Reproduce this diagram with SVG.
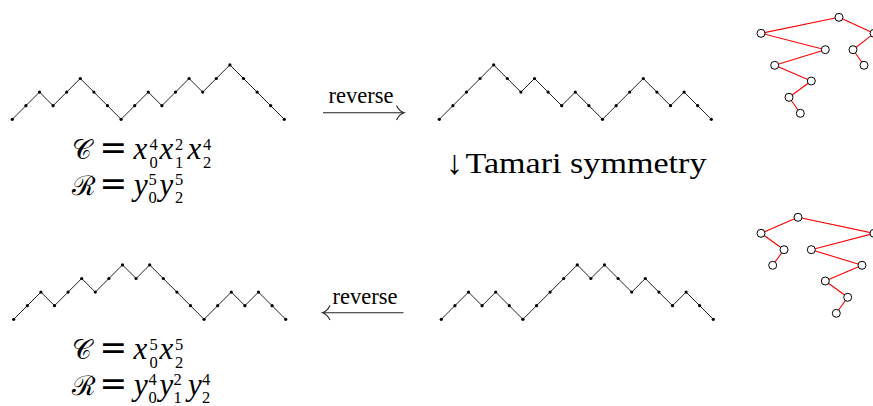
<svg xmlns="http://www.w3.org/2000/svg" width="873" height="406" viewBox="0 0 873 406">
<style>
.dp{fill:none;stroke:#222;stroke-width:1;marker-start:url(#dot);marker-mid:url(#dot);marker-end:url(#dot)}
.m{font-family:"Liberation Serif",serif;font-size:31px;fill:#000;font-style:italic}
.cal{font-family:"DejaVu Serif",serif;font-size:27px;fill:#000}
.eq{font-family:"DejaVu Serif",serif;font-size:33px;fill:#000}
.s{font-family:"Liberation Serif",serif;font-size:16.5px;fill:#000}
.lbl{font-family:"Liberation Serif",serif;font-size:22.5px;fill:#000;text-anchor:middle}
.big{font-family:"Liberation Serif",serif;font-size:30px;fill:#000}
.te{stroke:#f00;stroke-width:1.1;fill:none}
.tn{fill:#fff;stroke:#000;stroke-width:1}
.arr{fill:none;stroke:#222;stroke-width:1.1}
</style>
<defs>
<marker id="dot" markerUnits="userSpaceOnUse" markerWidth="6" markerHeight="6" refX="3" refY="3" overflow="visible">
<circle cx="3" cy="3" r="1.6" fill="#000"/>
</marker>
</defs>

<g id="path-top-left">
<polyline class="dp" points="12.3,119.3 25.9,105.7 39.5,92.1 53.1,105.7 66.7,92.1 80.3,78.5 93.9,92.1 107.5,105.7 121.1,119.3 134.7,105.7 148.3,92.1 161.9,105.7 175.5,92.1 189.1,78.5 202.7,92.1 216.3,78.5 229.9,64.9 243.5,78.5 257.1,92.1 270.7,105.7 284.3,119.3"/>
</g>
<g id="path-top-mid">
<polyline class="dp" points="439.3,119.3 452.9,105.7 466.5,92.1 480.1,78.5 493.7,64.9 507.3,78.5 520.9,92.1 534.5,78.5 548.1,92.1 561.7,105.7 575.3,92.1 588.9,105.7 602.5,119.3 616.1,105.7 629.7,92.1 643.3,78.5 656.9,92.1 670.5,105.7 684.1,92.1 697.7,105.7 711.3,119.3"/>
</g>
<g id="path-bottom-left">
<polyline class="dp" points="13.7,319.3 27.3,305.7 40.9,292.1 54.5,305.7 68.1,292.1 81.7,278.5 95.3,292.1 108.9,278.5 122.5,264.9 136.1,278.5 149.7,264.9 163.3,278.5 176.9,292.1 190.5,305.7 204.1,319.3 217.7,305.7 231.3,292.1 244.9,305.7 258.5,292.1 272.1,305.7 285.7,319.3"/>
</g>
<g id="path-bottom-mid">
<polyline class="dp" points="441.3,319.3 454.9,305.7 468.5,292.1 482.1,305.7 495.7,292.1 509.3,305.7 522.9,319.3 536.5,305.7 550.1,292.1 563.7,278.5 577.3,264.9 590.9,278.5 604.5,264.9 618.1,278.5 631.7,292.1 645.3,278.5 658.9,292.1 672.5,305.7 686.1,292.1 699.7,305.7 713.3,319.3"/>
</g>

<g id="formula-top">
<text class="cal" x="72" y="159.3">𝒞</text>
<text class="eq" x="99.5" y="159.3">=</text>
<text class="m" y="159.3"><tspan x="133.5">x</tspan><tspan x="159.5">x</tspan><tspan x="187.5">x</tspan></text>
<text class="s" y="149.5"><tspan x="149.5">4</tspan><tspan x="175">2</tspan><tspan x="203">4</tspan></text>
<text class="s" y="167.5"><tspan x="149.5">0</tspan><tspan x="175">1</tspan><tspan x="203">2</tspan></text>
<text class="cal" x="72" y="195">ℛ</text>
<text class="eq" x="99.5" y="195">=</text>
<text class="m" y="195"><tspan x="134">y</tspan><tspan x="159.5">y</tspan></text>
<text class="s" y="185.2"><tspan x="148.5">5</tspan><tspan x="175">5</tspan></text>
<text class="s" y="203.2"><tspan x="148.5">0</tspan><tspan x="175">2</tspan></text>
</g>
<g id="formula-bottom">
<text class="cal" x="72" y="359.3">𝒞</text>
<text class="eq" x="99.5" y="359.3">=</text>
<text class="m" y="359.3"><tspan x="133.5">x</tspan><tspan x="159.5">x</tspan></text>
<text class="s" y="349.5"><tspan x="149.5">5</tspan><tspan x="175">5</tspan></text>
<text class="s" y="367.5"><tspan x="149.5">0</tspan><tspan x="175">2</tspan></text>
<text class="cal" x="72" y="395">ℛ</text>
<text class="eq" x="99.5" y="395">=</text>
<text class="m" y="395"><tspan x="134">y</tspan><tspan x="159.5">y</tspan><tspan x="188">y</tspan></text>
<text class="s" y="385.2"><tspan x="148.5">4</tspan><tspan x="173.5">2</tspan><tspan x="202">4</tspan></text>
<text class="s" y="403.2"><tspan x="148.5">0</tspan><tspan x="173.5">1</tspan><tspan x="202">2</tspan></text>
</g>

<g id="tamari-label">
<text class="big" x="446" y="174" style="font-size:34px">↓</text>
<text class="big" x="465.5" y="173.3" textLength="241" lengthAdjust="spacingAndGlyphs">Tamari symmetry</text>
</g>

<g id="tree-top">
<path class="te" d="M839,17.3 L761,33.3 M839,17.3 L874,33.3 M761,33.3 L825.3,49.7 M874,33.3 L853,49.7 M825.3,49.7 L774.7,65.3 M853,49.7 L864,65.3 M774.7,65.3 L811.3,81 M811.3,81 L789,97.3 M789,97.3 L800.3,113.3"/>
<circle class="tn" cx="839" cy="17.3" r="4"/>
<circle class="tn" cx="761" cy="33.3" r="4"/>
<circle class="tn" cx="874" cy="33.3" r="4"/>
<circle class="tn" cx="825.3" cy="49.7" r="4"/>
<circle class="tn" cx="853" cy="49.7" r="4"/>
<circle class="tn" cx="774.7" cy="65.3" r="4"/>
<circle class="tn" cx="864" cy="65.3" r="4"/>
<circle class="tn" cx="811.3" cy="81" r="4"/>
<circle class="tn" cx="789" cy="97.3" r="4"/>
<circle class="tn" cx="800.3" cy="113.3" r="4"/>
</g>
<g id="tree-bottom">
<path class="te" d="M798,217.3 L761,233.3 M798,217.3 L874,233.3 M761,233.3 L784,249.7 M784,249.7 L772.7,265.3 M874,233.3 L811.3,249.7 M811.3,249.7 L862,265.3 M862,265.3 L825.3,281 M825.3,281 L847.7,297.3 M847.7,297.3 L836.3,313.3"/>
<circle class="tn" cx="798" cy="217.3" r="4"/>
<circle class="tn" cx="761" cy="233.3" r="4"/>
<circle class="tn" cx="874" cy="233.3" r="4"/>
<circle class="tn" cx="784" cy="249.7" r="4"/>
<circle class="tn" cx="811.3" cy="249.7" r="4"/>
<circle class="tn" cx="772.7" cy="265.3" r="4"/>
<circle class="tn" cx="862" cy="265.3" r="4"/>
<circle class="tn" cx="825.3" cy="281" r="4"/>
<circle class="tn" cx="847.7" cy="297.3" r="4"/>
<circle class="tn" cx="836.3" cy="313.3" r="4"/>
</g>

<g id="connectors">
<g id="arrow-reverse-top">
<path class="arr" d="M323,112.7 H403.5"/>
<path class="arr" d="M396.5,105.5 C398.5,109.5 400.5,111.7 404,112.7 C400.5,113.7 398.5,116 396.5,120"/>
<text class="lbl" x="361" y="103.3">reverse</text>
</g>
<g id="arrow-reverse-bottom">
<path class="arr" d="M323,312.7 H403.5"/>
<path class="arr" d="M330,305.5 C328,309.5 326,311.7 322.5,312.7 C326,313.7 328,316 330,320"/>
<text class="lbl" x="365" y="304">reverse</text>
</g>
</g>
</svg>
